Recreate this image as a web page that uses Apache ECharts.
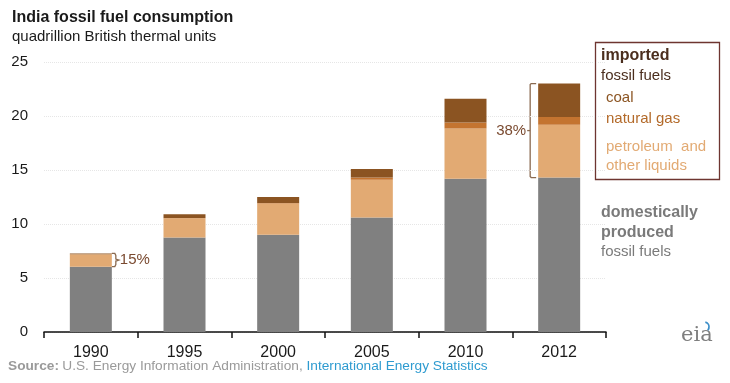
<!DOCTYPE html>
<html>
<head>
<meta charset="utf-8">
<script src="https://cdn.jsdelivr.net/npm/echarts@6/dist/echarts.min.js"></script>
<style>html,body{margin:0;padding:0;background:#fff}#c{width:730px;height:383px}</style>
</head>
<body>
<div id="c"></div>
<script>
var years = ['1990', '1995', '2000', '2005', '2010', '2012'];
var domestic = [6.05, 8.75, 9.0, 10.6, 14.2, 14.3];
var petroleum = [1.15, 1.78, 2.9, 3.5, 4.65, 4.9];
var naturalGas = [0, 0.03, 0.05, 0.2, 0.55, 0.7];
var coal = [0.08, 0.35, 0.55, 0.8, 2.2, 3.1];
var yTicks = [0, 5, 10, 15, 20, 25];
var shareLabels = {'1990': '15%', '2012': '38%'};

var FONT = 'Liberation Sans, Arial, sans-serif';
var cGray = '#808080', cPet = '#E2AA73', cGas = '#C47430', cCoal = '#8B5422';

var chart = echarts.init(document.getElementById('c'), null, {renderer: 'canvas'});

function mkSeries(name, data, color) {
  return {name: name, type: 'bar', stack: 't', data: data, barWidth: 42,
    itemStyle: {color: color}, emphasis: {disabled: true}, silent: true};
}

function txt(x, y, text, font, fill) {
  return {type: 'text', x: x, y: y, style: {text: text, font: font, fill: fill}};
}

var baseGraphics = [
  txt(12, 10, 'India fossil fuel consumption', 'bold 16px ' + FONT, '#1a1a1a'),
  txt(12, 29, 'quadrillion British thermal units', '15px ' + FONT, '#1a1a1a'),
  {type: 'rect', shape: {x: 595.5, y: 42.5, width: 124, height: 137}, style: {fill: 'none', stroke: '#6E3530', lineWidth: 1.3}},
  txt(601, 48, 'imported', 'bold 16px ' + FONT, '#4B2E1E'),
  txt(601, 68, 'fossil fuels', '15px ' + FONT, '#4B2E1E'),
  txt(606, 90, 'coal', '15px ' + FONT, '#8B5422'),
  txt(606, 111, 'natural gas', '15px ' + FONT, '#B36A2A'),
  txt(606, 139, 'petroleum  and', '15px ' + FONT, '#E2AA73'),
  txt(606, 158, 'other liquids', '15px ' + FONT, '#E2AA73'),
  txt(601, 205, 'domestically', 'bold 16px ' + FONT, '#7a7a7a'),
  txt(601, 225, 'produced', 'bold 16px ' + FONT, '#7a7a7a'),
  txt(601, 244, 'fossil fuels', '15px ' + FONT, '#7a7a7a'),
  {type: 'text', x: 8, y: 359, style: {
    rich: {b: {font: 'bold 13.7px ' + FONT, fill: '#9a9a9a'}, n: {font: '13.7px ' + FONT, fill: '#9a9a9a'}, l: {font: '13.7px ' + FONT, fill: '#2E9BD0'}},
    text: '{b|Source:} {n|U.S. Energy Information Administration, }{l|International Energy Statistics}'}},
  txt(681, 325, 'eia', '21px DejaVu Serif, serif', '#7f7f7f'),
  {type: 'arc', shape: {cx: 704, cy: 327, r: 5, startAngle: -1.3, endAngle: 0.7}, style: {fill: 'none', stroke: '#3D8FC8', lineWidth: 1.8}}
];

chart.setOption({
  animation: false,
  grid: {left: 44, right: 124, top: 62, bottom: 51},
  xAxis: {type: 'category', data: years, boundaryGap: true,
    axisLine: {lineStyle: {color: '#111', width: 1.5}},
    axisTick: {show: true, length: 6, lineStyle: {color: '#111', width: 1.5}},
    axisLabel: {color: '#1a1a1a', fontSize: 16, fontFamily: FONT, margin: 13}},
  yAxis: {type: 'value', min: yTicks[0], max: yTicks[yTicks.length - 1], interval: 5,
    axisLine: {show: false}, axisTick: {show: false},
    axisLabel: {color: '#1a1a1a', fontSize: 15, fontFamily: FONT, margin: 16},
    splitLine: {show: true, lineStyle: {color: '#e6e6e6', type: 'dotted', width: 1}}},
  series: [
    mkSeries('domestic', domestic, cGray),
    mkSeries('petroleum', petroleum, cPet),
    mkSeries('natural gas', naturalGas, cGas),
    mkSeries('coal', coal, cCoal)
  ],
  graphic: baseGraphics
});

var extra = [];
var bc = '#8A6A50';
function total(i) { return domestic[i] + petroleum[i] + naturalGas[i] + coal[i]; }
(function () {
  var i = years.indexOf('1990');
  var cx = chart.convertToPixel({xAxisIndex: 0}, years[i]);
  var yTop = chart.convertToPixel({yAxisIndex: 0}, total(i));
  var yBot = chart.convertToPixel({yAxisIndex: 0}, domestic[i]);
  var x0 = cx + 21, x1 = x0 + 4, ym = (yTop + yBot) / 2;
  extra.push({type: 'polyline', shape: {points: [[x0, yTop], [x1 - 1, yTop], [x1, yTop + 2], [x1, ym - 1], [x1 + 3, ym], [x1, ym + 1], [x1, yBot - 2], [x1 - 1, yBot], [x0, yBot]]},
    style: {fill: null, stroke: bc, lineWidth: 1.3}});
  extra.push({type: 'text', x: x1 + 4, y: ym, style: {text: shareLabels['1990'], font: '15px ' + FONT, fill: '#7A4A30', verticalAlign: 'middle'}});
})();
(function () {
  var i = years.indexOf('2012');
  var cx = chart.convertToPixel({xAxisIndex: 0}, years[i]);
  var yTop = chart.convertToPixel({yAxisIndex: 0}, total(i));
  var yBot = chart.convertToPixel({yAxisIndex: 0}, domestic[i]);
  var x0 = cx - 21 - 2, x1 = x0 - 6, ym = (yTop + yBot) / 2;
  extra.push({type: 'polyline', shape: {points: [[x0, yTop], [x1 + 1, yTop], [x1, yTop + 1], [x1, yBot - 1], [x1 + 1, yBot], [x0, yBot]]},
    style: {fill: null, stroke: bc, lineWidth: 1.3}});
  extra.push({type: 'line', shape: {x1: x1, y1: ym, x2: x1 - 3, y2: ym}, style: {stroke: bc, lineWidth: 1.3}});
  extra.push({type: 'text', x: x1 - 4, y: ym, style: {text: shareLabels['2012'], font: '15px ' + FONT, fill: '#7A4A30', verticalAlign: 'middle', align: 'right'}});
})();
chart.setOption({graphic: baseGraphics.concat(extra)});
</script>
</body>
</html>
